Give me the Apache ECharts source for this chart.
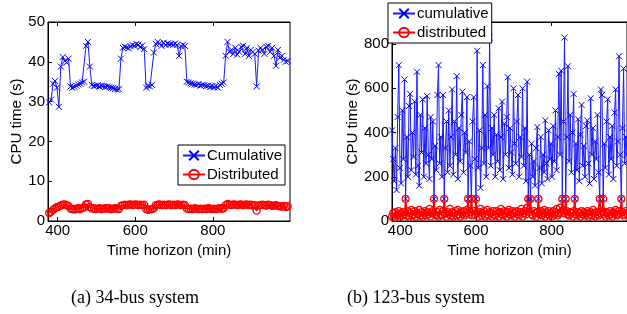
<!DOCTYPE html>
<html>
<head>
<meta charset="utf-8">
<script src="https://cdn.jsdelivr.net/npm/echarts@6/dist/echarts.min.js"></script>
<style>
  html, body { margin: 0; padding: 0; background: #fff; }
  #chart { width: 627px; height: 314px; }
</style>
</head>
<body>
<div id="chart"></div>
<script>
// (a) 34-bus system, one sample every 5 min from 378
const busA_start = 378;
const busA_step = 5;
const busA_cumulative = [
  29.8, 30.5, 34.5, 35.2, 33.5, 28.7, 38.8, 41.2, 40.2, 39.8,
  40.8, 33.8, 33.5, 33.7, 34.0, 34.3, 34.5, 34.8, 35.0, 44.0,
  45.0, 38.8, 34.2, 33.9, 34.0, 34.1, 33.8, 34.0, 33.9, 33.7,
  33.8, 33.6, 33.5, 33.4, 33.2, 33.0, 33.1, 40.8, 43.5, 43.8,
  43.6, 43.4, 43.9, 44.2, 44.0, 44.5, 44.3, 43.7, 44.1, 43.2,
  33.5, 34.0, 33.8, 34.2, 42.3, 44.5, 45.0, 44.6, 44.0, 44.8,
  44.2, 44.6, 44.4, 44.5, 44.3, 44.6, 44.2, 41.5, 43.9, 44.3,
  44.0, 35.0, 34.8, 34.6, 34.5, 34.3, 34.2, 34.4, 34.0, 34.2,
  34.1, 33.9, 34.0, 33.7, 33.8, 33.6, 34.0, 33.5, 34.2, 34.5,
  34.8, 41.5, 45.0, 42.5, 43.0, 42.0, 43.5, 41.8, 42.5, 43.8,
  44.0, 42.0, 43.5, 41.5, 43.0, 42.5, 42.0, 33.8, 42.8, 43.5,
  43.0, 42.0, 43.8, 44.0, 42.5, 43.5, 41.5, 39.0, 43.0, 41.0,
  41.5, 40.5, 40.0, 40.2
];
const busA_distributed = [
  2.0, 2.3, 2.8, 3.2, 3.5, 3.6, 3.9, 4.1, 4.2, 4.0,
  3.8, 3.1, 3.0, 2.9, 3.1, 3.2, 3.0, 3.3, 3.4, 4.2,
  4.3, 3.5, 3.1, 3.2, 3.0, 3.1, 3.2, 3.0, 3.1, 3.2,
  3.1, 3.2, 3.0, 3.1, 3.2, 3.1, 3.0, 3.8, 4.0, 4.1,
  4.0, 4.1, 4.2, 4.0, 4.1, 4.2, 4.0, 4.1, 4.0, 4.1,
  3.0, 2.8, 2.9, 3.0, 3.2, 4.0, 4.1, 4.2, 4.0, 4.1,
  4.0, 4.1, 4.2, 4.0, 4.1, 4.0, 4.2, 4.1, 4.0, 4.1,
  4.0, 3.1, 3.0, 3.1, 3.0, 3.2, 3.1, 3.0, 3.1, 3.0,
  3.1, 3.0, 3.2, 3.1, 3.0, 3.1, 3.0, 3.1, 3.2, 3.1,
  3.2, 4.0, 4.3, 4.1, 4.0, 4.2, 4.1, 4.0, 4.1, 4.2,
  4.0, 4.1, 4.2, 4.0, 4.1, 3.9, 4.0, 2.6, 3.9, 4.0,
  4.1, 4.0, 3.9, 4.1, 4.0, 3.8, 3.9, 4.0, 3.8, 3.7,
  3.6, 3.8, 3.5, 3.7
];

// (b) 123-bus system, one sample every 3 min from 378
const busB_start = 378;
const busB_step = 3;
const busB_cumulative = [
  410, 280, 180, 330, 140, 470, 705, 240, 170, 500,
  280, 640, 100, 380, 200, 520, 575, 230, 400, 290,
  540, 210, 675, 250, 160, 480, 310, 550, 200, 420,
  260, 565, 300, 190, 470, 280, 450, 100, 340, 230,
  570, 705, 260, 380, 200, 570, 100, 330, 450, 220,
  500, 250, 380, 595, 210, 450, 300, 655, 190, 420,
  270, 480, 585, 220, 400, 310, 560, 100, 360, 250,
  100, 450, 560, 280, 100, 770, 240, 410, 150, 330,
  705, 260, 480, 200, 610, 330, 830, 250, 420, 300,
  480, 200, 390, 270, 510, 230, 380, 540, 190, 440,
  300, 470, 650, 240, 420, 310, 210, 600, 350, 260,
  450, 570, 200, 380, 290, 600, 250, 420, 180, 630,
  100, 300, 100, 350, 200, 270, 160, 330, 425, 100,
  240, 380, 170, 300, 220, 455, 260, 190, 410, 280,
  350, 200, 430, 270, 500, 230, 380, 665, 300, 680,
  100, 450, 830, 100, 380, 700, 270, 480, 220, 400,
  575, 100, 350, 230, 460, 180, 390, 525, 250, 340,
  200, 430, 455, 260, 170, 555, 300, 420, 190, 360,
  280, 480, 220, 100, 595, 570, 100, 350, 240, 450,
  550, 210, 380, 280, 430, 190, 490, 595, 250, 360,
  745, 300, 100, 420, 690, 260, 380, 300
];
const busB_distributed = [
  20, 35, 15, 40, 25, 30, 45, 20, 35, 25,
  40, 30, 100, 25, 45, 20, 35, 50, 25, 30,
  45, 20, 35, 30, 50, 25, 40, 20, 35, 45,
  25, 40, 30, 55, 20, 35, 45, 100, 30, 25,
  40, 20, 50, 30, 25, 45, 100, 35, 20, 40,
  30, 55, 25, 40, 20, 35, 45, 25, 50, 30,
  20, 40, 30, 45, 25, 35, 50, 100, 30, 40,
  100, 25, 45, 30, 100, 35, 20, 40, 55, 25,
  35, 45, 20, 30, 50, 25, 40, 35, 20, 45,
  30, 25, 45, 35, 20, 40, 55, 30, 25, 45,
  35, 20, 40, 50, 30, 25, 45, 35, 20, 40,
  45, 30, 25, 40, 55, 20, 35, 45, 30, 60,
  100, 40, 100, 30, 25, 45, 35, 20, 40, 100,
  30, 45, 25, 35, 50, 20, 40, 30, 45, 25,
  35, 20, 45, 30, 40, 55, 25, 35, 60, 40,
  100, 50, 35, 100, 45, 30, 25, 40, 35, 20,
  45, 100, 30, 25, 40, 35, 20, 45, 30, 40,
  25, 35, 45, 20, 30, 40, 25, 50, 35, 20,
  40, 30, 25, 100, 35, 45, 100, 30, 20, 40,
  35, 25, 45, 30, 20, 40, 35, 50, 25, 30,
  45, 35, 100, 40, 25, 30, 45, 35
];

const xTicks = [400, 600, 800];
const captions = ['(a) 34-bus system', '(b) 123-bus system'];

const pairs = (start, step, vals) => vals.map((v, i) => [start + step * i, v]);

const sans = "'Liberation Sans', Arial, Helvetica, sans-serif";
const serifFont = "18px 'Liberation Serif', 'Times New Roman', serif";
const crossSym = 'path://M0,0L10,10M10,0L0,10';

const xBase = (grid, min, max) => ({
  type: 'value', gridIndex: grid, min: min, max: max,
  splitLine: { show: false },
  axisLine: { show: true, onZero: false, lineStyle: { color: '#000', width: 1 } },
  axisTick: { inside: true, length: 4, customValues: xTicks, lineStyle: { color: '#000' } },
  axisLabel: { customValues: xTicks, color: '#000', fontSize: 15, fontFamily: sans, margin: 2 },
  name: 'Time horizon (min)', nameLocation: 'middle', nameGap: 11,
  nameTextStyle: { color: '#000', fontSize: 15, fontFamily: sans }
});
const xTop = (grid, min, max) => ({
  type: 'value', gridIndex: grid, min: min, max: max, position: 'top',
  splitLine: { show: false },
  axisLine: { show: true, onZero: false, lineStyle: { color: '#000' } },
  axisTick: { inside: true, length: 4, customValues: xTicks, lineStyle: { color: '#000' } },
  axisLabel: { show: false }
});
const yBase = (grid, max, interval, gap) => ({
  type: 'value', gridIndex: grid, min: 0, max: max, interval: interval,
  splitLine: { show: false },
  axisLine: { show: true, onZero: false, lineStyle: { color: '#000', width: 1 } },
  axisTick: { inside: true, length: 4, lineStyle: { color: '#000' } },
  axisLabel: { color: '#000', fontSize: 15, fontFamily: sans, margin: 3, showMaxLabel: max % interval === 0 },
  name: 'CPU time (s)', nameLocation: 'middle', nameGap: gap,
  nameTextStyle: { color: '#000', fontSize: 15, fontFamily: sans }
});

const blueSeries = (name, x, y, data) => ({
  name: name, type: 'line', xAxisIndex: x, yAxisIndex: y, data: data,
  symbol: crossSym, symbolSize: 6,
  itemStyle: { color: '#0000ff', borderColor: '#0000ff', borderWidth: 1 },
  lineStyle: { color: '#1a1aff', width: 1 },
  emphasis: { disabled: true }
});
const redSeries = (name, x, y, data) => ({
  name: name, type: 'line', xAxisIndex: x, yAxisIndex: y, data: data,
  symbol: 'circle', symbolSize: 7,
  itemStyle: { color: 'rgba(255,255,255,0)', borderColor: '#ff0000', borderWidth: 1.3 },
  lineStyle: { color: '#ff0000', width: 1.5 },
  emphasis: { disabled: true }
});

const legendBase = (left, top, names) => ({
  orient: 'vertical', left: left, top: top, data: names,
  backgroundColor: '#fff', borderColor: '#000', borderWidth: 1, borderRadius: 0,
  padding: [3, 3, 3, 4], itemGap: 4, itemWidth: 22, itemHeight: 12,
  textStyle: { color: '#000', fontSize: 15, fontFamily: sans, padding: [0, 0, 0, -3] },
  selectedMode: false
});

const chart = echarts.init(document.getElementById('chart'), null, { renderer: 'canvas' });
chart.setOption({
  animation: false,
  backgroundColor: '#fff',
  grid: [
    { left: 48, top: 22, width: 242, height: 199, show: true, borderColor: '#000', borderWidth: 1, backgroundColor: 'transparent' },
    { left: 392, top: 22, width: 237, height: 199, show: true, borderColor: '#000', borderWidth: 1, backgroundColor: 'transparent' }
  ],
  xAxis: [
    xBase(0, 375, 999),
    xBase(1, 378, 999),
    xTop(0, 375, 999),
    xTop(1, 378, 999)
  ],
  yAxis: [
    yBase(0, 50, 10, 19),
    yBase(1, 900, 200, 26)
  ],
  legend: [
    legendBase(178, 145, ['Cumulative', 'Distributed']),
    legendBase(388, 3, ['cumulative', 'distributed'])
  ],
  series: [
    blueSeries('Cumulative', 0, 0, pairs(busA_start, busA_step, busA_cumulative)),
    redSeries('Distributed', 0, 0, pairs(busA_start, busA_step, busA_distributed)),
    blueSeries('cumulative', 1, 1, pairs(busB_start, busB_step, busB_cumulative)),
    redSeries('distributed', 1, 1, pairs(busB_start, busB_step, busB_distributed))
  ],
  graphic: [
    { type: 'text', left: 71, top: 289, style: { text: captions[0], font: serifFont, fill: '#000' } },
    { type: 'text', left: 347, top: 289, style: { text: captions[1], font: serifFont, fill: '#000' } }
  ]
});
</script>
</body>
</html>
